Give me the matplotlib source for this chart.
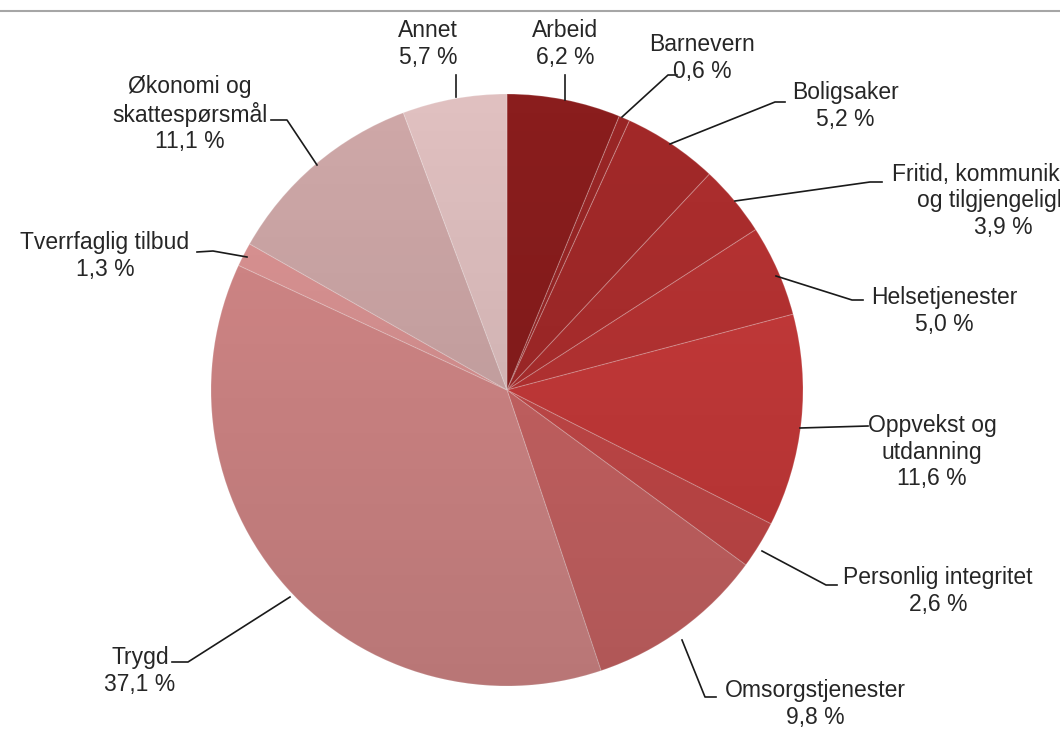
import numpy as np
import matplotlib
matplotlib.use("Agg")
import matplotlib.pyplot as plt
from matplotlib.patches import Circle

W, H = 1060, 730

categories = ["Arbeid", "Barnevern", "Boligsaker",
              "Fritid, kommunikasjon\nog tilgjengelighet", "Helsetjenester",
              "Oppvekst og\nutdanning", "Personlig integritet", "Omsorgstjenester",
              "Trygd", "Tverrfaglig tilbud", "Økonomi og\nskattespørsmål", "Annet"]
values = [6.2, 0.6, 5.2, 3.9, 5.0, 11.6, 2.6, 9.8, 37.1, 1.3, 11.1, 5.7]
colors = ["#8a1d1d", "#9a2626", "#a32929", "#ae2e2e", "#b93333", "#c83a3a",
          "#c64949", "#ca6464", "#d48888", "#dc9494", "#cfa8a8", "#e0c0c0"]

# label block centres and leader lines, in pixel coords (y down)
label_xy = [(565, 44), (702, 58), (845, 106), (1003, 201), (944, 311),
            (932, 452), (938, 591), (815, 704), (140, 671), (105, 256),
            (190, 114), (428, 44)]
leaders = [
    [(565, 75), (565, 100)],
    [(622, 117), (668, 75), (677, 75)],
    [(670, 144), (775, 102), (785, 102)],
    [(735, 201), (870, 182), (882, 182)],
    [(776, 276), (852, 300), (863, 300)],
    [(800, 428), (868, 426)],
    [(762, 551), (826, 585), (837, 585)],
    [(682, 640), (705, 697), (716, 697)],
    [(290, 597), (188, 662), (172, 662)],
    [(247, 257), (213, 251), (197, 252)],
    [(317, 165), (287, 120), (271, 120)],
    [(456, 75), (456, 97)],
]

cx, cy, r = 507, 390, 296


def Y(y):
    return H - y


fig = plt.figure(figsize=(W / 100, H / 100), dpi=100)
ax = fig.add_axes([0, 0, 1, 1])

wedges, _ = ax.pie(values, colors=colors, startangle=90, counterclock=False,
                   center=(cx, Y(cy)), radius=r, frame=True,
                   wedgeprops=dict(edgecolor=(1, 1, 1, 0.2), linewidth=0.8))

# vertical shading over the pie (darker towards the bottom)
grad = np.zeros((256, 2, 4))
t = np.linspace(0, 1, 256)[:, None]
grad[..., 3] = 0.13 * t
img = ax.imshow(grad, extent=(cx - r, cx + r, Y(cy + r), Y(cy - r)),
                origin="upper", aspect="auto", zorder=3, interpolation="bilinear")
img.set_clip_path(Circle((cx, Y(cy)), r, transform=ax.transData))

for lab, v, (lx, ly), pts in zip(categories, values, label_xy, leaders):
    txt = f"{lab}\n{v:.1f} %".replace(".", ",")
    ax.text(lx, Y(ly), txt, ha="center", va="center", fontsize=16.5,
            family="Liberation Sans", color="#262626", linespacing=1.18, zorder=5)
    xs = [p[0] for p in pts]
    ys = [Y(p[1]) for p in pts]
    ax.plot(xs, ys, color="#1a1a1a", lw=1.2, zorder=4)

# thin grey rule at the top
ax.plot([0, W], [Y(11), Y(11)], color="#a6a6a6", lw=1.5)

ax.set_xlim(0, W)
ax.set_ylim(0, H)
ax.set_aspect("auto")
ax.axis("off")

fig.savefig("out.png", dpi=100)
